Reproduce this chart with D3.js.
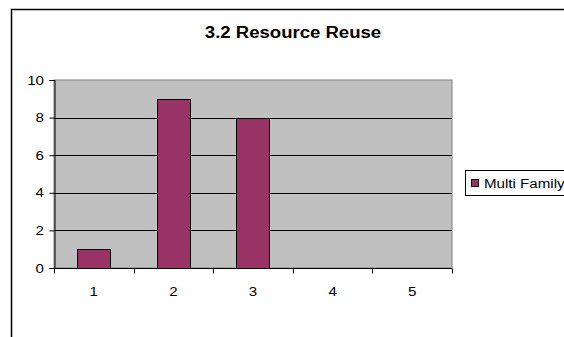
<!DOCTYPE html>
<html>
<head>
<meta charset="utf-8">
<script src="https://cdn.jsdelivr.net/npm/d3@7"></script>
<style>
  html, body { margin: 0; padding: 0; background: #fff; }
  svg { display: block; font-family: Arial, "Liberation Sans", sans-serif; }
</style>
</head>
<body>
<svg id="chart" width="564" height="337"></svg>
<script>
// Chart data
const title = "3.2 Resource Reuse";
const categories = ["1", "2", "3", "4", "5"];
const seriesName = "Multi Family";
const values = [1, 9, 8, 0, 0];
const yTicks = [0, 2, 4, 6, 8, 10];

// Text in this chart is drawn slightly wide
const LABEL_STRETCH = 1.12;
const TITLE_STRETCH = 1.16;
const LABEL_SIZE = 13.5;

const svg = d3.select("#chart");

// Outer chart frame (extends past the right and bottom edges)
svg.append("rect")
  .attr("x", 11.5).attr("y", 9.5)
  .attr("width", 600).attr("height", 400)
  .attr("fill", "#fff").attr("stroke", "#000").attr("stroke-width", 1.5);

const plot = { left: 54, top: 80, right: 452, bottom: 268 };

const x = d3.scaleBand()
  .domain(categories)
  .range([plot.left, plot.right])
  .paddingInner(0.58).paddingOuter(0.29);

const xTickScale = d3.scaleLinear().domain([0, categories.length]).range([plot.left, plot.right]);

const y = d3.scaleLinear().domain([0, 10]).range([plot.bottom, plot.top]);

function wideText(sel, px, py, k) {
  return sel.attr("transform", (d, i) => `translate(${px(d, i)},${py(d, i)}) scale(${k},1)`)
    .attr("x", 0).attr("y", 0);
}

// Plot area background
svg.append("rect")
  .attr("x", plot.left).attr("y", plot.top)
  .attr("width", plot.right - plot.left).attr("height", plot.bottom - plot.top)
  .attr("fill", "#c0c0c0").attr("stroke", "#808080").attr("stroke-width", 1);

// Horizontal gridlines
svg.append("g")
  .selectAll("line")
  .data(yTicks.filter(t => t > 0 && t < 10))
  .join("line")
  .attr("x1", plot.left).attr("x2", plot.right)
  .attr("y1", d => Math.round(y(d)) + 0.5).attr("y2", d => Math.round(y(d)) + 0.5)
  .attr("stroke", "#000").attr("stroke-width", 1);

// Bars
svg.append("g")
  .selectAll("rect")
  .data(values.map((v, i) => ({ c: categories[i], v })).filter(d => d.v > 0))
  .join("rect")
  .attr("x", d => Math.round(x(d.c)) + 0.5)
  .attr("y", d => Math.round(y(d.v)) + 0.5)
  .attr("width", Math.round(x.bandwidth()))
  .attr("height", d => Math.round(y(0)) - Math.round(y(d.v)))
  .attr("fill", "#993366").attr("stroke", "#000").attr("stroke-width", 1);

// Y axis (line and ticks from d3.axisLeft; labels drawn separately)
const yAxis = svg.append("g")
  .attr("transform", `translate(${plot.left + 0.5},0)`)
  .call(d3.axisLeft(y).tickValues(yTicks).tickSize(5).tickFormat(""));
yAxis.select(".domain").attr("stroke", "#000");
yAxis.selectAll(".tick line").attr("stroke", "#000");
svg.append("g")
  .selectAll("text")
  .data(yTicks)
  .join("text")
  .call(wideText, () => 44, d => y(d) + 4.5, LABEL_STRETCH)
  .attr("text-anchor", "end")
  .attr("font-size", LABEL_SIZE).attr("fill", "#000")
  .text(d3.format("d"));

// X axis with ticks at category boundaries
const xAxisG = svg.append("g").attr("transform", `translate(0,${plot.bottom + 0.5})`);
xAxisG.append("line")
  .attr("x1", plot.left).attr("x2", plot.right)
  .attr("stroke", "#000");
xAxisG.selectAll("line.tick")
  .data(d3.range(categories.length + 1))
  .join("line").attr("class", "tick")
  .attr("x1", d => Math.round(xTickScale(d)) + 0.5).attr("x2", d => Math.round(xTickScale(d)) + 0.5)
  .attr("y1", 0).attr("y2", 5)
  .attr("stroke", "#000");
xAxisG.selectAll("text")
  .data(categories)
  .join("text")
  .call(wideText, d => x(d) + x.bandwidth() / 2, () => 27, LABEL_STRETCH)
  .attr("text-anchor", "middle")
  .attr("font-size", LABEL_SIZE).attr("fill", "#000")
  .text(d => d);

// Title
svg.append("text")
  .datum(title)
  .call(wideText, () => 293, () => 38, TITLE_STRETCH)
  .attr("text-anchor", "middle")
  .attr("font-size", 16).attr("font-weight", "bold").attr("fill", "#000")
  .text(d => d);

// Legend
const legend = svg.append("g");
legend.append("rect")
  .attr("x", 465.5).attr("y", 170.5)
  .attr("width", 120).attr("height", 25)
  .attr("fill", "#fff").attr("stroke", "#000").attr("stroke-width", 1);
legend.append("rect")
  .attr("x", 471.5).attr("y", 179.5)
  .attr("width", 7).attr("height", 7)
  .attr("fill", "#993366").attr("stroke", "#000").attr("stroke-width", 1);
legend.append("text")
  .datum(seriesName)
  .call(wideText, () => 484, () => 188, LABEL_STRETCH)
  .attr("font-size", LABEL_SIZE).attr("fill", "#000")
  .text(d => d);
</script>
</body>
</html>
